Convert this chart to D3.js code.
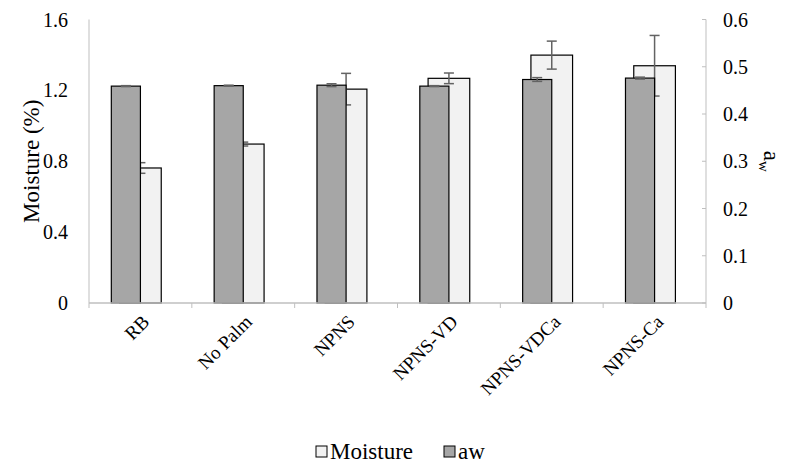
<!DOCTYPE html>
<html>
<head>
<meta charset="utf-8">
<script src="https://cdn.jsdelivr.net/npm/d3@7"></script>
<style>
  body { margin: 0; background: #fff; }
  text { font-family: "Liberation Serif", serif; }
</style>
</head>
<body>
<div id="chart"></div>
<script>
const categories = ["RB", "No Palm", "NPNS", "NPNS-VD", "NPNS-VDCa", "NPNS-Ca"];
const moisture = [0.762, 0.897, 1.207, 1.268, 1.399, 1.339];
const moistureErr = [0.030, 0.011, 0.089, 0.030, 0.079, 0.171];
const aw = [0.459, 0.460, 0.461, 0.459, 0.473, 0.476];
const awErr = [0.001, 0.001, 0.003, 0.001, 0.004, 0.002];
const leftTicks = [0, 0.4, 0.8, 1.2, 1.6];
const rightTicks = [0, 0.1, 0.2, 0.3, 0.4, 0.5, 0.6];

const width = 787, height = 466;
const plotL = 89, plotR = 706, plotT = 19.5, plotB = 303;
const FONT = "Liberation Serif";

const svg = d3.select("#chart").append("svg")
  .attr("width", width)
  .attr("height", height)
  .style("font-family", FONT);

const x = d3.scaleBand().domain(categories).range([plotL, plotR]).padding(0);
const yL = d3.scaleLinear().domain([0, 1.6]).range([plotB, plotT]);
const yR = d3.scaleLinear().domain([0, 0.6]).range([plotB, plotT]);

const bw = x.bandwidth();
const mW = bw * 0.405;
const aW = bw * 0.283;
const axisGrey = "#bfbfbf";
const errGrey = "#636363";

// axis lines
svg.append("line").attr("x1", plotL).attr("x2", plotL).attr("y1", plotT).attr("y2", plotB)
  .attr("stroke", axisGrey).attr("stroke-width", 1);
svg.append("line").attr("x1", plotR).attr("x2", plotR).attr("y1", plotT).attr("y2", plotB)
  .attr("stroke", axisGrey).attr("stroke-width", 1);

// right axis ticks
svg.selectAll(".rtick").data(rightTicks).join("line")
  .attr("x1", plotR - 4).attr("x2", plotR)
  .attr("y1", d => yR(d)).attr("y2", d => yR(d))
  .attr("stroke", axisGrey);

// category boundary ticks
const bounds = categories.map(c => x(c)).concat([plotR]);
svg.selectAll(".ctick").data(bounds).join("line")
  .attr("x1", d => d).attr("x2", d => d)
  .attr("y1", plotB).attr("y2", plotB + 5)
  .attr("stroke", axisGrey);

// moisture bars (primary axis)
const cx = c => x(c) + bw / 2;
svg.selectAll(".mbar").data(categories).join("rect")
  .attr("x", c => cx(c) - mW / 2)
  .attr("width", mW)
  .attr("y", (c, i) => yL(moisture[i]))
  .attr("height", (c, i) => yL(0) - yL(moisture[i]))
  .attr("fill", "#f2f2f2").attr("stroke", "#000").attr("stroke-width", 1.2);

const mErr = svg.append("g").attr("stroke", errGrey).attr("stroke-width", 1.5);
categories.forEach((c, i) => {
  const ex = cx(c);
  const y1 = yL(moisture[i] + moistureErr[i]), y2 = yL(moisture[i] - moistureErr[i]);
  mErr.append("line").attr("x1", ex).attr("x2", ex).attr("y1", y1).attr("y2", y2);
  mErr.append("line").attr("x1", ex - 5).attr("x2", ex + 5).attr("y1", y1).attr("y2", y1);
  mErr.append("line").attr("x1", ex - 5).attr("x2", ex + 5).attr("y1", y2).attr("y2", y2);
});

// aw bars (secondary axis)
svg.selectAll(".abar").data(categories).join("rect")
  .attr("x", c => cx(c) - aW)
  .attr("width", aW)
  .attr("y", (c, i) => yR(aw[i]))
  .attr("height", (c, i) => yR(0) - yR(aw[i]))
  .attr("fill", "#a6a6a6").attr("stroke", "#000").attr("stroke-width", 1.2);

const aErr = svg.append("g").attr("stroke", errGrey).attr("stroke-width", 1.5);
categories.forEach((c, i) => {
  const ex = cx(c) - aW / 2;
  const y1 = yR(aw[i] + awErr[i]), y2 = yR(aw[i] - awErr[i]);
  aErr.append("line").attr("x1", ex).attr("x2", ex).attr("y1", y1).attr("y2", y2);
  aErr.append("line").attr("x1", ex - 5).attr("x2", ex + 5).attr("y1", y1).attr("y2", y1);
  aErr.append("line").attr("x1", ex - 5).attr("x2", ex + 5).attr("y1", y2).attr("y2", y2);
});

// bottom axis line
svg.append("line").attr("x1", plotL).attr("x2", plotR).attr("y1", plotB).attr("y2", plotB)
  .attr("stroke", axisGrey).attr("stroke-width", 1.5);

// tick labels
svg.selectAll(".ltl").data(leftTicks).join("text")
  .attr("font-family", FONT)
  .attr("x", 68).attr("y", d => yL(d) + 7)
  .attr("text-anchor", "end").attr("font-size", 20)
  .text(d => d === 0 ? "0" : d.toFixed(1));

svg.selectAll(".rtl").data(rightTicks).join("text")
  .attr("font-family", FONT)
  .attr("x", 723).attr("y", d => yR(d) + 7)
  .attr("text-anchor", "start").attr("font-size", 20)
  .text(d => d === 0 ? "0" : d.toFixed(1));

// category labels, rotated 45 degrees
svg.selectAll(".cl").data(categories).join("text")
  .attr("font-family", FONT)
  .attr("text-anchor", "end").attr("font-size", 19)
  .attr("transform", c => "translate(" + (cx(c) + 10) + "," + (plotB + 20) + ") rotate(-45)")
  .text(c => c);

// axis titles
svg.append("text")
  .attr("font-family", FONT)
  .attr("transform", `translate(39,${(plotT + plotB) / 2}) rotate(-90)`)
  .attr("text-anchor", "middle").attr("font-size", 23)
  .text("Moisture (%)");

const rt = svg.append("text")
  .attr("font-family", FONT)
  .attr("transform", `translate(764,${(plotT + plotB) / 2}) rotate(90)`)
  .attr("text-anchor", "middle").attr("font-size", 23);
rt.append("tspan").text("a");
rt.append("tspan").attr("font-size", 15).attr("dy", 5).text("w");

// legend
const legend = [
  { name: "Moisture", fill: "#f2f2f2", x: 316 },
  { name: "aw", fill: "#a6a6a6", x: 444 }
];
legend.forEach(l => {
  svg.append("rect").attr("x", l.x).attr("y", 446).attr("width", 11).attr("height", 11)
    .attr("fill", l.fill).attr("stroke", "#000").attr("stroke-width", 1);
  svg.append("text").attr("font-family", FONT)
    .attr("x", l.x + 14).attr("y", 459)
    .attr("font-size", 23).text(l.name);
});
</script>
</body>
</html>
